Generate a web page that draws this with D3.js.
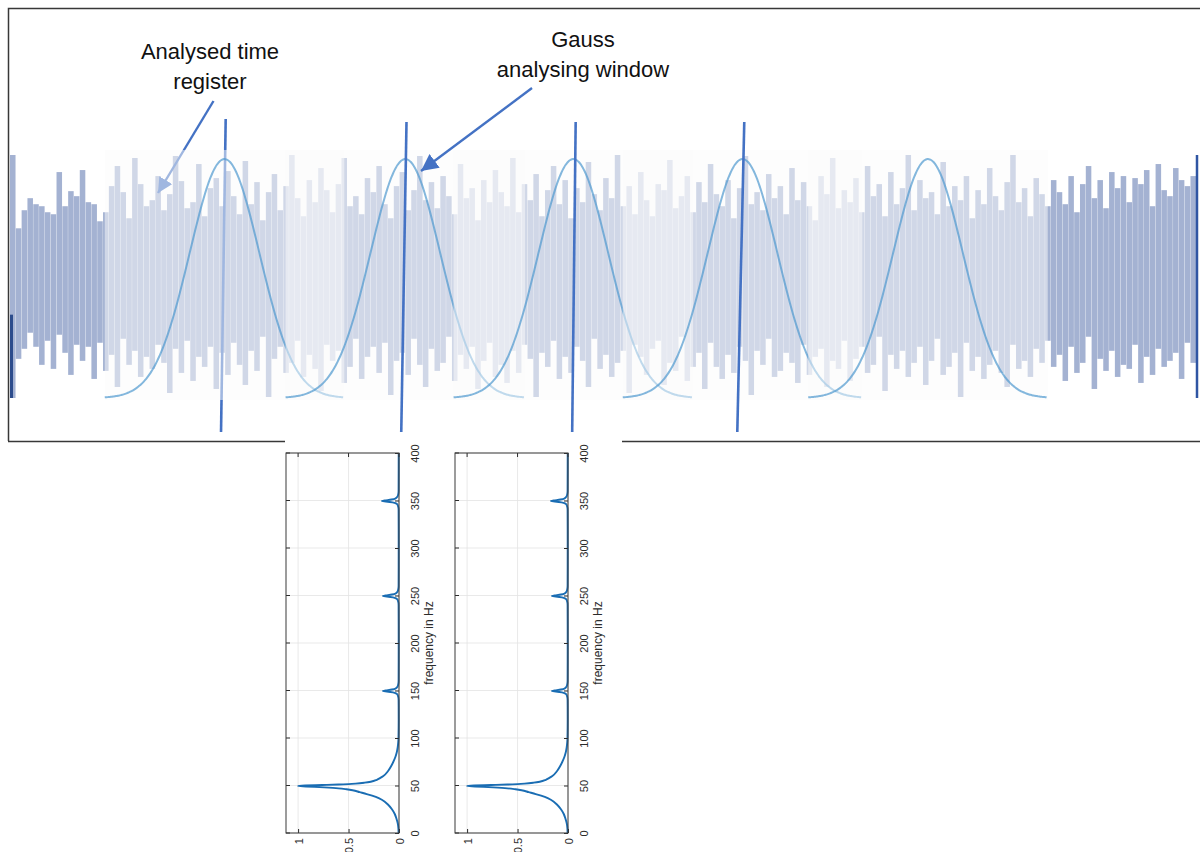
<!DOCTYPE html>
<html>
<head>
<meta charset="utf-8">
<script src="https://cdn.jsdelivr.net/npm/d3@7"></script>
<style>
  body { margin: 0; background: #fff; }
  svg { display: block; font-family: "Liberation Sans", Arial, sans-serif; }
</style>
</head>
<body>
<svg id="fig" width="1200" height="852"></svg>
<script>
// ---- time signal: upper / lower excursion of each sample block ----
const barHigh = [
  121, 48, 66, 78, 72, 70, 64, 62, 104, 70, 85, 80,
  106, 74, 72, 55, 64, 90, 110, 84, 58, 118, 92, 70,
  76, 100, 66, 82, 120, 95, 68, 74, 112, 60, 88, 98,
  70, 105, 80, 62, 115, 72, 94, 56, 84, 102, 66, 90,
  121, 78, 60, 96, 74, 108, 86, 64, 92, 118, 70, 80,
  62, 98, 84, 110, 72, 58, 90, 104, 66, 86, 120, 76,
  94, 68, 100, 80, 62, 112, 78, 88, 56, 96, 74, 106,
  84, 70, 118, 64, 92, 76, 102, 60, 86, 110, 72, 96,
  58, 88, 74, 114, 82, 66, 98, 78, 121, 70, 90, 62,
  104, 76, 60, 92, 86, 116, 68, 80, 100, 64, 94, 74,
  112, 82, 70, 96, 58, 88, 120, 72, 84, 66, 102, 78,
  90, 62, 108, 76, 94, 70, 56, 100, 82, 118, 68, 86,
  74, 98, 64, 110, 80, 92, 60, 104, 72, 88, 121, 66,
  96, 78, 84, 62, 114, 70, 90, 76, 100, 58, 86, 72,
  108, 80, 66, 94, 121, 74, 88, 60, 98, 82, 70, 96,
  84, 72, 100, 64, 92, 110, 78, 96, 68, 104, 88, 100,
  74, 98, 92, 106, 70, 112, 86, 80, 108, 96, 90, 100
];
const barLow = [
  -121, -82, -72, -56, -70, -88, -64, -92, -58, -76, -98, -68,
  -84, -70, -102, -66, -94, -78, -110, -62, -88, -74, -100, -80,
  -92, -68, -86, -116, -72, -96, -64, -104, -80, -90, -70, -112,
  -76, -98, -66, -88, -108, -74, -94, -60, -120, -82, -70, -96,
  -86, -64, -100, -78, -92, -114, -68, -84, -74, -106, -90, -62,
  -102, -80, -70, -96, -66, -118, -84, -76, -98, -62, -88, -110,
  -72, -94, -86, -60, -104, -78, -92, -70, -112, -84, -66, -100,
  -88, -106, -74, -96, -68, -82, -120, -76, -90, -64, -102, -80,
  -96, -70, -84, -110, -62, -92, -78, -100, -86, -74, -116, -68,
  -80, -98, -72, -64, -108, -86, -94, -60, -104, -90, -76, -112,
  -66, -90, -102, -78, -96, -70, -84, -118, -74, -88, -62, -100,
  -94, -76, -86, -106, -68, -98, -80, -72, -110, -84, -92, -64,
  -104, -82, -70, -96, -88, -60, -114, -78, -92, -74, -100, -86,
  -70, -108, -84, -62, -98, -90, -76, -120, -66, -94, -80, -102,
  -88, -74, -96, -110, -68, -92, -84, -100, -72, -86, -64, -90,
  -78, -104, -70, -96, -86, -60, -112, -82, -94, -74, -100, -88,
  -92, -68, -106, -80, -98, -72, -90, -84, -76, -102, -66, -86
];

// ---- Gaussian analysing windows (sample-block units) ----
const windowCentres = [36.9, 68.0, 96.9, 126.0, 157.9];
const windowHalfSpan = 20.6;
const windowSigma = 6.0;

// ---- analysed time markers: position at upper and lower end ----
const markerTop = [37.1, 68.2, 97.3, 126.3];
const markerBottom = [36.3, 67.3, 96.7, 125.1];

// ---- amplitude spectrum of one window ----
const specFreq = [0, 5, 10, 15, 20, 25, 30, 35, 38, 41, 43, 45, 46, 47, 48, 49, 49.5, 50, 50.5, 51,
  51.5, 52, 53, 54, 56, 58, 60, 65, 70, 75, 80, 85, 90, 95, 100, 120, 140, 145, 147, 148,
  149, 149.5, 150, 151, 152, 154, 157, 160, 200, 240, 245, 247, 248, 249, 249.5, 250, 251, 252, 254, 257,
  260, 300, 340, 345, 347, 348, 349, 349.5, 350, 351, 352, 354, 357, 360, 400];
const specAmp = [0.004, 0.006, 0.012, 0.025, 0.042, 0.07, 0.11, 0.17, 0.23, 0.32, 0.39, 0.46, 0.52, 0.6, 0.74, 0.92, 1.0, 0.93, 0.76, 0.6,
  0.5, 0.43, 0.34, 0.28, 0.22, 0.185, 0.155, 0.11, 0.08, 0.056, 0.036, 0.022, 0.013, 0.008, 0.005, 0.003, 0.004, 0.012, 0.03, 0.06,
  0.12, 0.16, 0.13, 0.07, 0.035, 0.015, 0.007, 0.004, 0.003, 0.004, 0.012, 0.03, 0.06, 0.12, 0.16, 0.13, 0.07, 0.035, 0.015, 0.007,
  0.004, 0.003, 0.004, 0.012, 0.03, 0.065, 0.13, 0.17, 0.14, 0.075, 0.037, 0.016, 0.007, 0.004, 0.003];
const freqTicks = [0, 50, 100, 150, 200, 250, 300, 350, 400];
const ampTicks = [0, 0.5, 1];
const freqLabel = "frequency in Hz";
const labelRegister = ["Analysed time", "register"];
const labelWindow = ["Gauss", "analysing window"];

const svg = d3.select("#fig");
const blue = "#4472c4";

// ---------------- scales for the time signal ----------------
const nBars = barHigh.length;
const xBar = d3.scaleBand().domain(d3.range(nBars)).range([10, 1196]).paddingInner(0.05);
const xTime = d3.scaleLinear().domain([0, nBars]).range([10, 1196]);
const yAmp = d3.scaleLinear().domain([-121, 121]).range([398, 155]);
const yWin = d3.scaleLinear().domain([0, 1]).range([398, 159]);

// arrow heads
const defs = svg.append("defs");
function arrowMarker(id, size) {
  defs.append("marker")
    .attr("id", id).attr("markerUnits", "userSpaceOnUse")
    .attr("viewBox", "0 0 10 10").attr("refX", 10).attr("refY", 5)
    .attr("markerWidth", size).attr("markerHeight", size)
    .attr("orient", "auto")
    .append("path").attr("d", "M0,0 L10,5 L0,10 Z").attr("fill", blue);
}
arrowMarker("headA", 15);
arrowMarker("headB", 17);

// frame
svg.append("path")
  .attr("d", "M8.5,441 V8.5 H1200 M8,441.5 H1200")
  .attr("fill", "none").attr("stroke", "#383838").attr("stroke-width", 1.5);

// signal bars
svg.append("g").selectAll("rect").data(barHigh).join("rect")
  .attr("x", (d, i) => xBar(i))
  .attr("width", xBar.bandwidth())
  .attr("y", d => yAmp(d))
  .attr("height", (d, i) => yAmp(barLow[i]) - yAmp(d))
  .attr("fill", "#a4b2d2");

// dark edges of the recording
svg.append("line").attr("x1", 11.5).attr("x2", 11.5).attr("y1", yAmp(-38)).attr("y2", yAmp(-121))
  .attr("stroke", "#2c4c8c").attr("stroke-width", 3);
svg.append("line").attr("x1", 1197).attr("x2", 1197).attr("y1", yAmp(121)).attr("y2", yAmp(-121))
  .attr("stroke", "#2f55a3").attr("stroke-width", 2.5);

// first time marker and register arrow sit beneath the window panels
function marker(i) {
  svg.append("line")
    .attr("x1", xTime(markerTop[i])).attr("y1", i === 0 ? 119 : 122)
    .attr("x2", xTime(markerBottom[i])).attr("y2", 432)
    .attr("stroke", blue).attr("stroke-width", 2.6);
}
marker(0);
svg.append("line")
  .attr("x1", 213.5).attr("y1", 101).attr("x2", 158).attr("y2", 193)
  .attr("stroke", blue).attr("stroke-width", 2.4).attr("marker-end", "url(#headA)");

// windows: faded panel plus Gaussian curve
const gaussLine = d3.line().x(d => xTime(d[0])).y(d => yWin(d[1])).curve(d3.curveBasis);
windowCentres.forEach(c => {
  svg.append("rect")
    .attr("x", xTime(c - windowHalfSpan)).attr("width", xTime(c + windowHalfSpan) - xTime(c - windowHalfSpan))
    .attr("y", 150).attr("height", 250)
    .attr("fill", "#fbfbfb").attr("opacity", 0.5);
  const pts = d3.range(-windowHalfSpan, windowHalfSpan + 0.01, 0.25)
    .map(t => [c + t, Math.exp(-(t * t) / (2 * windowSigma * windowSigma))]);
  svg.append("path").attr("d", gaussLine(pts))
    .attr("fill", "none").attr("stroke", "#4f98cf").attr("stroke-opacity", 0.7).attr("stroke-width", 2);
});

// remaining markers on top
for (let i = 1; i < markerTop.length; i++) marker(i);

// window arrow
svg.append("line")
  .attr("x1", 532).attr("y1", 88).attr("x2", 421).attr("y2", 171)
  .attr("stroke", blue).attr("stroke-width", 2.4).attr("marker-end", "url(#headB)");

// annotation texts
function label(lines, cx, y0) {
  lines.forEach((t, k) => svg.append("text")
    .attr("x", cx).attr("y", y0 + k * 29.5)
    .attr("text-anchor", "middle").attr("font-size", 22).attr("fill", "#111")
    .text(t));
}
label(labelRegister, 210, 59);
label(labelWindow, 583, 47);

// ---------------- spectra ----------------
svg.append("rect").attr("x", 285).attr("y", 436).attr("width", 337).attr("height", 416).attr("fill", "#fff");

function spectrumPanel(x0, x1) {
  const g = svg.append("g");
  const fy = d3.scaleLinear().domain([0, 400]).range([833, 453]);
  const ax = d3.scaleLinear().domain([0, 1.12]).range([x1, x0]);
  const ink = "#2b2b2b";

  g.append("rect").attr("x", x0).attr("y", 453).attr("width", x1 - x0).attr("height", 380).attr("fill", "#fff");
  // grid
  g.selectAll(".hg").data(freqTicks).join("line")
    .attr("x1", x0).attr("x2", x1).attr("y1", d => fy(d)).attr("y2", d => fy(d))
    .attr("stroke", "#e3e3e3").attr("stroke-width", 0.8);
  g.selectAll(".vg").data(ampTicks).join("line")
    .attr("x1", d => ax(d)).attr("x2", d => ax(d)).attr("y1", 453).attr("y2", 833)
    .attr("stroke", "#e3e3e3").attr("stroke-width", 0.8);

  // spectrum curve
  const curve = d3.line()
    .x((d, i) => ax(specAmp[i])).y(d => fy(d))
    .curve(d3.curveMonotoneY);
  g.append("path").attr("d", curve(specFreq))
    .attr("fill", "none").attr("stroke", "#1a6db3").attr("stroke-width", 1.9);

  // frequency axis (right side)
  g.append("g").attr("transform", `translate(${x1},0)`)
    .call(d3.axisRight(fy).tickValues(freqTicks).tickSize(-4).tickPadding(0))
    .call(s => s.select(".domain").remove())
    .call(s => s.selectAll("line").attr("stroke", ink))
    .call(s => s.selectAll("text")
      .attr("x", 0).attr("dy", null)
      .attr("transform", "translate(16,0) rotate(-90)")
      .attr("text-anchor", "middle").attr("dominant-baseline", "central")
      .attr("font-size", 11).attr("font-family", "Liberation Sans, Arial, sans-serif").attr("fill", ink));
  // mirrored ticks on the opposite side
  g.selectAll(".ft").data(freqTicks).join("line")
    .attr("x1", x0).attr("x2", x0 + 4).attr("y1", d => fy(d)).attr("y2", d => fy(d))
    .attr("stroke", ink);

  // amplitude axis (bottom)
  g.append("g").attr("transform", "translate(0,833)")
    .call(d3.axisBottom(ax).tickValues(ampTicks).tickSize(-4).tickPadding(0).tickFormat(d3.format("~g")))
    .call(s => s.select(".domain").remove())
    .call(s => s.selectAll("line").attr("stroke", ink))
    .call(s => s.selectAll("text")
      .attr("y", 0).attr("dy", null)
      .attr("transform", "translate(0,5) rotate(-90)")
      .attr("text-anchor", "end").attr("dominant-baseline", "central")
      .attr("font-size", 11).attr("font-family", "Liberation Sans, Arial, sans-serif").attr("fill", ink));
  g.selectAll(".at").data(ampTicks).join("line")
    .attr("x1", d => ax(d)).attr("x2", d => ax(d)).attr("y1", 453).attr("y2", 457)
    .attr("stroke", ink);

  // box
  g.append("rect").attr("x", x0).attr("y", 453).attr("width", x1 - x0).attr("height", 380)
    .attr("fill", "none").attr("stroke", "#3a3a3a").attr("stroke-width", 1);

  g.append("text")
    .attr("transform", `translate(${x1 + 30},643) rotate(-90)`)
    .attr("text-anchor", "middle").attr("dominant-baseline", "central")
    .attr("font-size", 12).attr("fill", ink)
    .text(freqLabel);
}
spectrumPanel(286, 399);
spectrumPanel(455, 568);
</script>
</body>
</html>
